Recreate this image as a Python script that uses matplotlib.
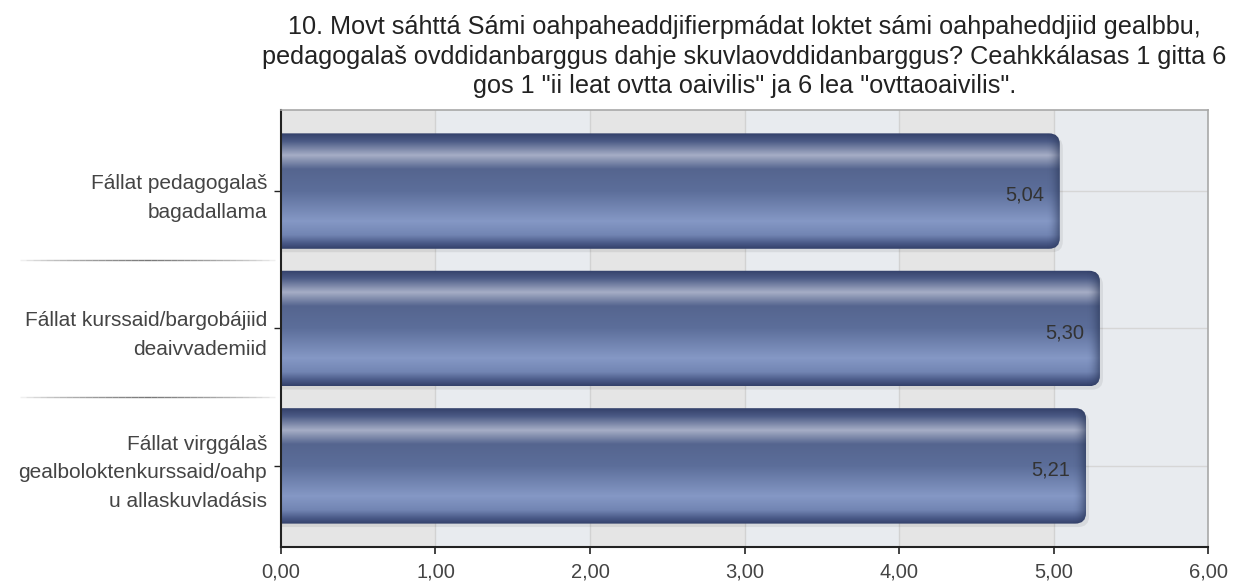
"""Horizontal bar chart: Sámi teacher education survey, question 10 (mean scores)."""
import matplotlib
matplotlib.use("Agg")
import matplotlib.pyplot as plt
import numpy as np
from matplotlib.colors import LinearSegmentedColormap
from matplotlib.patches import FancyBboxPatch

categories = [
    "Fállat pedagogalaš\nbagadallama",
    "Fállat kurssaid/bargobájiid\ndeaivvademiid",
    "Fállat virggálaš\ngealboloktenkurssaid/oahp\nu allaskuvladásis",
]
values = [5.04, 5.30, 5.21]
xticks = [0, 1, 2, 3, 4, 5, 6]
xticklabels = ["0,00", "1,00", "2,00", "3,00", "4,00", "5,00", "6,00"]
title = ('10. Movt sáhttá Sámi oahpaheaddjifierpmádat loktet sámi oahpaheddjiid gealbbu,\n'
         'pedagogalaš ovddidanbarggus dahje skuvlaovddidanbarggus? Ceahkkálasas 1 gitta 6\n'
         'gos 1 "ii leat ovtta oaivilis" ja 6 lea "ovttaoaivilis".')

plt.rcParams["font.family"] = ["Liberation Sans", "DejaVu Sans"]

fig = plt.figure(figsize=(12.52, 5.86), dpi=100)
fig.patch.set_facecolor("white")
ax = fig.add_axes([0.2244, 0.0666, 0.7405, 0.7457])

y = np.arange(len(categories))
h = 0.84

# alternating background bands + grid
for i in range(6):
    ax.axvspan(i, i + 1, color="#e5e5e5" if i % 2 == 0 else "#e8ebef", zorder=0, lw=0)
for t in xticks[1:-1]:
    ax.axvline(t, color="#d2d2d2", lw=1, zorder=0.5)
for yy in y:
    ax.axhline(yy, color="#d6d6d6", lw=1, zorder=0.5)

# bar gradient (top -> bottom)
grad = LinearSegmentedColormap.from_list("bar", [
    (0.00, "#33406a"), (0.07, "#4c5b86"), (0.19, "#a6aec6"), (0.31, "#55658f"),
    (0.50, "#5c6e9a"), (0.76, "#8598c5"), (0.88, "#7285b3"), (0.95, "#4a5a88"),
    (1.00, "#33406a")])
gimg = np.linspace(0, 1, 256).reshape(-1, 1)
edge = np.zeros((1, 64, 4))
edge[..., :3] = np.array([0.15, 0.2, 0.33])
edge[..., 3] = np.linspace(0, 1, 64) ** 2 * 0.6

bars = ax.barh(y, values, height=h, color="#5b6d99", zorder=1)
for b, v in zip(bars, values):
    b.set_visible(False)
    x0, y0, w_, hh = b.get_x(), b.get_y(), b.get_width(), b.get_height()
    # soft shadow
    sh = FancyBboxPatch((x0 - 0.3, y0 + 0.025), w_ + 0.3 + 0.02, hh,
                        boxstyle="round,pad=0,rounding_size=0.07", mutation_aspect=1.13,
                        fc="#000000", alpha=0.07, lw=0, zorder=1.5)
    ax.add_patch(sh)
    clip = FancyBboxPatch((x0 - 0.3, y0), w_ + 0.3, hh,
                          boxstyle="round,pad=0,rounding_size=0.07", mutation_aspect=1.13,
                          fc="none", ec="none", transform=ax.transData)
    ax.add_patch(clip)
    im = ax.imshow(gimg, cmap=grad, aspect="auto", extent=[0, w_, y0 + hh, y0],
                   origin="upper", zorder=2, interpolation="bilinear")
    im.set_clip_path(clip)
    im2 = ax.imshow(edge, aspect="auto", extent=[w_ - 0.09, w_, y0 + hh, y0],
                    zorder=2.1, interpolation="bilinear")
    im2.set_clip_path(clip)
    ax.text(v - 0.1, b.get_y() + hh / 2 + 0.03, f"{v:.2f}".replace(".", ","),
            ha="right", va="center", fontsize=14.5, color="#333333", zorder=3)

ax.set_xlim(0, 6)
ax.set_ylim(2.59, -0.59)
ax.set_xticks(xticks)
ax.set_xticklabels(xticklabels, fontsize=14.5, color="#444444")
ax.set_yticks(y)
ax.set_yticklabels(categories, fontsize=15, color="#444444", linespacing=1.65)
ax.tick_params(axis="x", direction="out", length=5, width=1.2, color="#222222", pad=6)
ax.tick_params(axis="y", direction="out", length=5, width=1, color="#222222", pad=5)

for s in ["left", "bottom"]:
    ax.spines[s].set_color("#222222")
    ax.spines[s].set_linewidth(1.5)
for s in ["top", "right"]:
    ax.spines[s].set_color("#a8a8a8")
    ax.spines[s].set_linewidth(1.2)

# faded separators in the label area (x in axes fraction, y in data)
xs = np.linspace(-0.2816, -0.006, 40)
mid = (xs[0] + xs[-1]) / 2
half = (xs[-1] - xs[0]) / 2
for yy in y[:-1] + 0.5:
    for k in range(len(xs) - 1):
        m = (xs[k] + xs[k + 1]) / 2
        a = 1 - abs(m - mid) / half
        ax.plot([xs[k], xs[k + 1]], [yy, yy], color="#555555", lw=1,
                alpha=max(a, 0) ** 0.6 * 0.8, clip_on=False, zorder=5,
                transform=ax.get_yaxis_transform(), solid_capstyle="butt")

ax.set_title(title, fontsize=18.2, color="#222222", linespacing=1.3, pad=12)

plt.savefig("out.png", dpi=100, facecolor="white")
print("saved out.png")
